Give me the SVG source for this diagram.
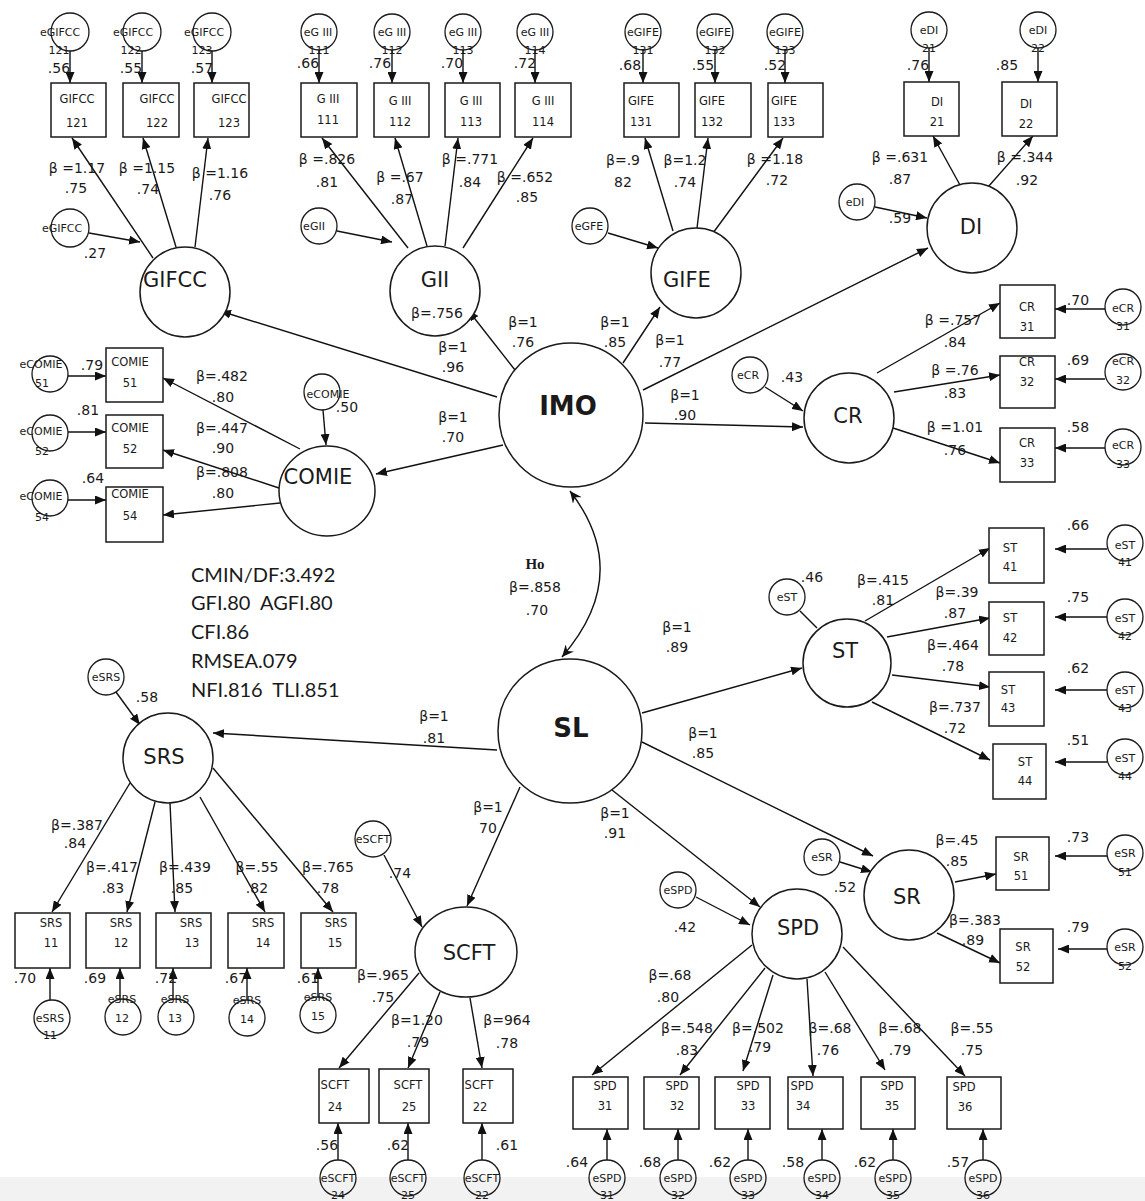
<svg xmlns="http://www.w3.org/2000/svg" width="1145" height="1201" viewBox="0 0 1145 1201">
<style>
.bg{fill:#ffffff}
.band{fill:#f2f2f2}
.lat{fill:#fff;stroke:#1a1a1a;stroke-width:1.5}
.ob{fill:#fff;stroke:#1a1a1a;stroke-width:1.5}
.er{fill:#fff;stroke:#1a1a1a;stroke-width:1.3}
.ern{fill:none;stroke:#1a1a1a;stroke-width:1.3}
.c line,.c path{stroke:#111;stroke-width:1.4;fill:none}
.a{marker-end:url(#ah)}
.ho{stroke:#111;stroke-width:2.6;fill:none;marker-start:url(#ah2);marker-end:url(#ah2)}
text{font-family:"DejaVu Sans","Liberation Sans",sans-serif;fill:#1a1a1a;text-anchor:middle}
.lt{font-size:21px}
.bt{font-size:26px;font-weight:bold}
.l{font-size:14px}
.bx{font-size:11.5px}
.ex{font-size:11px}
.fit{font-family:Lato,"Open Sans",sans-serif;font-size:20px;text-anchor:start;white-space:pre}
.hot{font-family:"Liberation Serif",serif;font-weight:bold;font-size:15px}
</style>
<defs>
<marker id="ah" markerUnits="userSpaceOnUse" markerWidth="11" markerHeight="9" refX="11" refY="4.5" orient="auto"><path d="M0,0 L11,4.5 L0,9 z" fill="#111"/></marker>
<marker id="ah2" markerUnits="userSpaceOnUse" markerWidth="13" markerHeight="11" refX="12" refY="5.5" orient="auto-start-reverse"><path d="M0,0 L12,5.5 L0,11 L4,5.5 z" fill="#111"/></marker>
</defs>
<rect class="bg" x="0" y="0" width="1145" height="1201"/>
<rect class="band" x="0" y="1177" width="1145" height="24"/>

<g id="connectors" class="c">
<line class="a" x1="70" y1="51" x2="70" y2="83"/>
<line class="a" x1="142" y1="51" x2="142" y2="83"/>
<line class="a" x1="212" y1="51" x2="212" y2="83"/>
<line class="a" x1="319" y1="50" x2="319" y2="83"/>
<line class="a" x1="392" y1="50" x2="392" y2="83"/>
<line class="a" x1="463" y1="50" x2="463" y2="83"/>
<line class="a" x1="535" y1="50" x2="535" y2="83"/>
<line class="a" x1="643" y1="50" x2="643" y2="83"/>
<line class="a" x1="715" y1="50" x2="715" y2="83"/>
<line class="a" x1="785" y1="50" x2="785" y2="83"/>
<line class="a" x1="929" y1="48" x2="929" y2="82"/>
<line class="a" x1="1038" y1="48" x2="1038" y2="82"/>
<line class="a" x1="153" y1="258" x2="72" y2="138"/>
<line class="a" x1="176" y1="247" x2="143" y2="138"/>
<line class="a" x1="195" y1="247" x2="208" y2="138"/>
<line class="a" x1="408" y1="248" x2="322" y2="138"/>
<line class="a" x1="427" y1="246" x2="395" y2="138"/>
<line class="a" x1="445" y1="246" x2="458" y2="138"/>
<line class="a" x1="463" y1="248" x2="533" y2="138"/>
<line class="a" x1="673" y1="231" x2="645" y2="138"/>
<line class="a" x1="697" y1="228" x2="708" y2="138"/>
<line class="a" x1="713" y1="233" x2="783" y2="138"/>
<line class="a" x1="960" y1="185" x2="933" y2="136"/>
<line class="a" x1="988" y1="187" x2="1033" y2="136"/>
<line class="a" x1="89" y1="233" x2="140" y2="242"/>
<line class="a" x1="337" y1="231" x2="392" y2="242"/>
<line class="a" x1="608" y1="233" x2="658" y2="248"/>
<line class="a" x1="875" y1="207" x2="927" y2="218"/>
<line class="a" x1="497" y1="397" x2="220" y2="311"/>
<line class="a" x1="515" y1="370" x2="468" y2="310"/>
<line class="a" x1="623" y1="363" x2="660" y2="307"/>
<line class="a" x1="643" y1="390" x2="928" y2="248"/>
<line class="a" x1="645" y1="423" x2="803" y2="427"/>
<line class="a" x1="503" y1="445" x2="376" y2="474"/>
<path class="ho" d="M570,491 Q634,574 562,657"/>
<line class="a" x1="68" y1="376" x2="106" y2="376"/>
<line class="a" x1="68" y1="432" x2="106" y2="432"/>
<line class="a" x1="68" y1="500" x2="106" y2="500"/>
<line class="a" x1="300" y1="449" x2="163" y2="378"/>
<line class="a" x1="279" y1="488" x2="163" y2="450"/>
<line class="a" x1="280" y1="503" x2="163" y2="515"/>
<line class="a" x1="323" y1="410" x2="326" y2="445"/>
<line class="a" x1="1105" y1="309" x2="1055" y2="309"/>
<line class="a" x1="1105" y1="379" x2="1055" y2="379"/>
<line class="a" x1="1105" y1="448" x2="1055" y2="448"/>
<line class="a" x1="765" y1="387" x2="803" y2="411"/>
<line class="a" x1="877" y1="373" x2="1000" y2="303"/>
<line class="a" x1="894" y1="392" x2="1000" y2="375"/>
<line class="a" x1="893" y1="428" x2="1000" y2="463"/>
<line class="a" x1="642" y1="713" x2="802" y2="668"/>
<line class="a" x1="642" y1="742" x2="873" y2="856"/>
<line class="a" x1="497" y1="750" x2="213" y2="733"/>
<line class="a" x1="520" y1="787" x2="467" y2="906"/>
<line class="a" x1="612" y1="790" x2="760" y2="907"/>
<line class="a" x1="1107" y1="549" x2="1055" y2="549"/>
<line class="a" x1="1107" y1="617" x2="1055" y2="617"/>
<line class="a" x1="1107" y1="690" x2="1055" y2="690"/>
<line class="a" x1="1107" y1="762" x2="1055" y2="762"/>
<line x1="800" y1="611" x2="817" y2="628"/>
<line class="a" x1="865" y1="621" x2="990" y2="548"/>
<line class="a" x1="887" y1="637" x2="990" y2="618"/>
<line class="a" x1="892" y1="675" x2="990" y2="687"/>
<line class="a" x1="872" y1="702" x2="990" y2="760"/>
<line class="a" x1="1107" y1="856" x2="1055" y2="856"/>
<line class="a" x1="1107" y1="949" x2="1058" y2="949"/>
<line class="a" x1="840" y1="862" x2="872" y2="872"/>
<line class="a" x1="955" y1="882" x2="996" y2="874"/>
<line class="a" x1="937" y1="933" x2="1000" y2="963"/>
<line class="a" x1="696" y1="897" x2="750" y2="925"/>
<line class="a" x1="752" y1="945" x2="592" y2="1075"/>
<line class="a" x1="765" y1="968" x2="680" y2="1075"/>
<line class="a" x1="773" y1="975" x2="743" y2="1071"/>
<line class="a" x1="807" y1="979" x2="813" y2="1076"/>
<line class="a" x1="825" y1="972" x2="885" y2="1070"/>
<line class="a" x1="843" y1="947" x2="965" y2="1076"/>
<line class="a" x1="607" y1="1160" x2="607" y2="1129"/>
<line class="a" x1="678" y1="1160" x2="678" y2="1129"/>
<line class="a" x1="748" y1="1160" x2="748" y2="1129"/>
<line class="a" x1="822" y1="1160" x2="822" y2="1129"/>
<line class="a" x1="893" y1="1160" x2="893" y2="1129"/>
<line class="a" x1="983" y1="1160" x2="983" y2="1129"/>
<line class="a" x1="384" y1="855" x2="422" y2="927"/>
<line class="a" x1="419" y1="973" x2="339" y2="1068"/>
<line class="a" x1="440" y1="992" x2="408" y2="1068"/>
<line class="a" x1="470" y1="998" x2="482" y2="1068"/>
<line class="a" x1="338" y1="1160" x2="338" y2="1123"/>
<line class="a" x1="408" y1="1160" x2="408" y2="1123"/>
<line class="a" x1="482" y1="1160" x2="482" y2="1123"/>
<line class="a" x1="116" y1="692" x2="140" y2="725"/>
<line class="a" x1="130" y1="783" x2="52" y2="912"/>
<line class="a" x1="155" y1="802" x2="127" y2="912"/>
<line class="a" x1="170" y1="803" x2="175" y2="912"/>
<line class="a" x1="200" y1="797" x2="265" y2="912"/>
<line class="a" x1="213" y1="768" x2="333" y2="912"/>
<line class="a" x1="50" y1="1000" x2="50" y2="968"/>
<line class="a" x1="120" y1="999" x2="120" y2="968"/>
<line class="a" x1="173" y1="999" x2="173" y2="968"/>
<line class="a" x1="247" y1="1000" x2="247" y2="968"/>
<line class="a" x1="318" y1="997" x2="318" y2="968"/>
</g>

<g id="GIFCC">
<circle class="lat" cx="185" cy="292" r="45"/>
<text class="lt" x="175" y="287">GIFCC</text>
<text class="l" x="77" y="173">β =1.17</text><text class="l" x="76" y="193">.75</text>
<text class="l" x="147" y="173">β =1.15</text><text class="l" x="148" y="194">.74</text>
<text class="l" x="220" y="178">β =1.16</text><text class="l" x="220" y="200">.76</text>
</g>
<g id="eGIFCC"><circle class="er" cx="70" cy="228" r="19"/><text class="ex" x="62" y="232">eGIFCC</text><text class="l" x="95" y="258">.27</text></g>
<g id="GIFCC121"><rect class="ob" x="51" y="83" width="55" height="54"/><text class="bx" x="77" y="103">GIFCC</text><text class="bx" x="77" y="127">121</text>
<circle class="er" cx="70" cy="32" r="19"/><text class="ex" x="60" y="36">eGIFCC</text><text class="ex" x="59" y="54">121</text><text class="l" x="59" y="73">.56</text></g>
<g id="GIFCC122"><rect class="ob" x="123" y="83" width="56" height="54"/><text class="bx" x="157" y="103">GIFCC</text><text class="bx" x="157" y="127">122</text>
<circle class="er" cx="142" cy="32" r="19"/><text class="ex" x="133" y="36">eGIFCC</text><text class="ex" x="131" y="54">122</text><text class="l" x="131" y="73">.55</text></g>
<g id="GIFCC123"><rect class="ob" x="194" y="83" width="55" height="54"/><text class="bx" x="229" y="103">GIFCC</text><text class="bx" x="229" y="127">123</text>
<circle class="er" cx="212" cy="32" r="19"/><text class="ex" x="204" y="36">eGIFCC</text><text class="ex" x="202" y="54">123</text><text class="l" x="202" y="73">.57</text></g>

<g id="GII">
<circle class="lat" cx="435" cy="291" r="45"/>
<text class="lt" x="435" y="287">GII</text>
<text class="l" x="437" y="318">β=.756</text>
<text class="l" x="327" y="164">β =.826</text><text class="l" x="327" y="187">.81</text>
<text class="l" x="400" y="182">β =.67</text><text class="l" x="402" y="204">.87</text>
<text class="l" x="470" y="164">β =.771</text><text class="l" x="470" y="187">.84</text>
<text class="l" x="525" y="182">β =.652</text><text class="l" x="527" y="202">.85</text>
</g>
<g id="eGII"><circle class="er" cx="319" cy="226" r="18"/><text class="ex" x="314" y="230">eGII</text></g>
<g id="GIII111"><rect class="ob" x="301" y="83" width="56" height="54"/><text class="bx" x="328" y="103">G III</text><text class="bx" x="328" y="124">111</text>
<circle class="er" cx="319" cy="32" r="18"/><text class="ex" x="318" y="36">eG III</text><text class="ex" x="319" y="54">111</text><text class="l" x="308" y="68">.66</text></g>
<g id="GIII112"><rect class="ob" x="374" y="83" width="55" height="54"/><text class="bx" x="400" y="105">G III</text><text class="bx" x="400" y="126">112</text>
<circle class="er" cx="392" cy="32" r="18"/><text class="ex" x="392" y="36">eG III</text><text class="ex" x="392" y="54">112</text><text class="l" x="380" y="68">.76</text></g>
<g id="GIII113"><rect class="ob" x="445" y="83" width="55" height="54"/><text class="bx" x="471" y="105">G III</text><text class="bx" x="471" y="126">113</text>
<circle class="er" cx="463" cy="32" r="18"/><text class="ex" x="463" y="36">eG III</text><text class="ex" x="463" y="54">113</text><text class="l" x="452" y="68">.70</text></g>
<g id="GIII114"><rect class="ob" x="515" y="83" width="56" height="54"/><text class="bx" x="543" y="105">G III</text><text class="bx" x="543" y="126">114</text>
<circle class="er" cx="535" cy="32" r="18"/><text class="ex" x="535" y="36">eG III</text><text class="ex" x="535" y="54">114</text><text class="l" x="525" y="68">.72</text></g>

<g id="GIFE">
<circle class="lat" cx="696" cy="273" r="45"/>
<text class="lt" x="687" y="287">GIFE</text>
<text class="l" x="623" y="165">β=.9</text><text class="l" x="623" y="187">82</text>
<text class="l" x="685" y="165">β=1.2</text><text class="l" x="685" y="187">.74</text>
<text class="l" x="775" y="164">β =1.18</text><text class="l" x="777" y="185">.72</text>
</g>
<g id="eGFE"><circle class="er" cx="590" cy="226" r="18"/><text class="ex" x="589" y="230">eGFE</text></g>
<g id="GIFE131"><rect class="ob" x="624" y="83" width="55" height="54"/><text class="bx" x="641" y="105">GIFE</text><text class="bx" x="641" y="126">131</text>
<circle class="er" cx="643" cy="32" r="18"/><text class="ex" x="643" y="36">eGIFE</text><text class="ex" x="643" y="54">131</text><text class="l" x="630" y="70">.68</text></g>
<g id="GIFE132"><rect class="ob" x="695" y="83" width="56" height="54"/><text class="bx" x="712" y="105">GIFE</text><text class="bx" x="712" y="126">132</text>
<circle class="er" cx="715" cy="32" r="18"/><text class="ex" x="715" y="36">eGIFE</text><text class="ex" x="715" y="54">132</text><text class="l" x="703" y="70">.55</text></g>
<g id="GIFE133"><rect class="ob" x="768" y="83" width="55" height="54"/><text class="bx" x="784" y="105">GIFE</text><text class="bx" x="784" y="126">133</text>
<circle class="er" cx="785" cy="32" r="18"/><text class="ex" x="785" y="36">eGIFE</text><text class="ex" x="785" y="54">133</text><text class="l" x="775" y="70">.52</text></g>

<g id="DI">
<circle class="lat" cx="972" cy="228" r="45"/>
<text class="lt" x="971" y="234">DI</text>
<text class="l" x="900" y="162">β =.631</text><text class="l" x="900" y="184">.87</text>
<text class="l" x="1025" y="162">β =.344</text><text class="l" x="1027" y="185">.92</text>
</g>
<g id="eDIdist"><circle class="er" cx="857" cy="202" r="18"/><text class="ex" x="855" y="206">eDI</text><text class="l" x="900" y="223">.59</text></g>
<g id="DI21"><rect class="ob" x="904" y="82" width="55" height="54"/><text class="bx" x="937" y="106">DI</text><text class="bx" x="937" y="126">21</text>
<circle class="er" cx="929" cy="30" r="18"/><text class="ex" x="929" y="34">eDI</text><text class="ex" x="929" y="52">21</text><text class="l" x="918" y="70">.76</text></g>
<g id="DI22"><rect class="ob" x="1002" y="82" width="55" height="54"/><text class="bx" x="1026" y="108">DI</text><text class="bx" x="1026" y="128">22</text>
<circle class="er" cx="1038" cy="30" r="18"/><text class="ex" x="1038" y="34">eDI</text><text class="ex" x="1038" y="52">22</text><text class="l" x="1007" y="70">.85</text></g>

<g id="IMO">
<circle class="lat" cx="571" cy="415" r="72"/>
<text class="bt" x="568" y="415">IMO</text>
<text class="l" x="453" y="352">β=1</text><text class="l" x="453" y="372">.96</text>
<text class="l" x="523" y="327">β=1</text><text class="l" x="523" y="347">.76</text>
<text class="l" x="615" y="327">β=1</text><text class="l" x="615" y="347">.85</text>
<text class="l" x="670" y="345">β=1</text><text class="l" x="670" y="367">.77</text>
<text class="l" x="685" y="400">β=1</text><text class="l" x="685" y="420">.90</text>
<text class="l" x="453" y="422">β=1</text><text class="l" x="453" y="442">.70</text>
</g>

<g id="Ho">
<text class="hot" x="535" y="569">Ho</text>
<text class="l" x="535" y="592">β=.858</text>
<text class="l" x="537" y="615">.70</text>
</g>

<g id="COMIE">
<ellipse class="lat" cx="327" cy="491" rx="48" ry="45"/>
<text class="lt" x="318" y="484">COMIE</text>
<text class="l" x="222" y="381">β=.482</text><text class="l" x="223" y="402">.80</text>
<text class="l" x="222" y="433">β=.447</text><text class="l" x="223" y="453">.90</text>
<text class="l" x="222" y="477">β=.808</text><text class="l" x="223" y="498">.80</text>
</g>
<g id="eCOMIEdist"><circle class="er" cx="322" cy="392" r="18"/><text class="ex" x="328" y="398">eCOMIE</text><text class="l" x="347" y="412">.50</text></g>
<g id="COMIE51"><rect class="ob" x="106" y="348" width="57" height="54"/><text class="bx" x="130" y="366">COMIE</text><text class="bx" x="130" y="387">51</text>
<circle class="er" cx="50" cy="374" r="18"/><text class="ex" x="41" y="368">eCOMIE</text><text class="ex" x="42" y="387">51</text><text class="l" x="92" y="370">.79</text></g>
<g id="COMIE52"><rect class="ob" x="106" y="415" width="57" height="53"/><text class="bx" x="130" y="432">COMIE</text><text class="bx" x="130" y="453">52</text>
<circle class="er" cx="50" cy="433" r="18"/><text class="ex" x="41" y="435">eCOMIE</text><text class="ex" x="42" y="455">52</text><text class="l" x="88" y="415">.81</text></g>
<g id="COMIE54"><rect class="ob" x="106" y="487" width="57" height="55"/><text class="bx" x="130" y="498">COMIE</text><text class="bx" x="130" y="520">54</text>
<circle class="er" cx="50" cy="498" r="18"/><text class="ex" x="41" y="500">eCOMIE</text><text class="ex" x="42" y="521">54</text><text class="l" x="93" y="483">.64</text></g>

<g id="CR">
<circle class="lat" cx="849" cy="418" r="45"/>
<text class="lt" x="848" y="423">CR</text>
<text class="l" x="953" y="325">β =.757</text><text class="l" x="955" y="347">.84</text>
<text class="l" x="955" y="375">β =.76</text><text class="l" x="955" y="398">.83</text>
<text class="l" x="955" y="432">β =1.01</text><text class="l" x="955" y="455">.76</text>
</g>
<g id="eCRdist"><circle class="er" cx="750" cy="375" r="18"/><text class="ex" x="748" y="379">eCR</text><text class="l" x="792" y="382">.43</text></g>
<g id="CR31"><rect class="ob" x="1000" y="285" width="55" height="53"/><text class="bx" x="1027" y="311">CR</text><text class="bx" x="1027" y="331">31</text>
<circle class="er" cx="1123" cy="307" r="18"/><text class="ex" x="1123" y="312">eCR</text><text class="ex" x="1123" y="330">31</text><text class="l" x="1078" y="305">.70</text></g>
<g id="CR32"><rect class="ob" x="1000" y="356" width="55" height="52"/><text class="bx" x="1027" y="366">CR</text><text class="bx" x="1027" y="386">32</text>
<circle class="er" cx="1123" cy="372" r="18"/><text class="ex" x="1123" y="365">eCR</text><text class="ex" x="1123" y="384">32</text><text class="l" x="1078" y="365">.69</text></g>
<g id="CR33"><rect class="ob" x="1000" y="428" width="55" height="54"/><text class="bx" x="1027" y="447">CR</text><text class="bx" x="1027" y="467">33</text>
<circle class="er" cx="1123" cy="447" r="18"/><text class="ex" x="1123" y="449">eCR</text><text class="ex" x="1123" y="468">33</text><text class="l" x="1078" y="432">.58</text></g>

<g id="SL">
<circle class="lat" cx="570" cy="731" r="72"/>
<text class="bt" x="571" y="737">SL</text>
<text class="l" x="677" y="632">β=1</text><text class="l" x="677" y="652">.89</text>
<text class="l" x="703" y="738">β=1</text><text class="l" x="703" y="758">.85</text>
<text class="l" x="434" y="721">β=1</text><text class="l" x="434" y="743">.81</text>
<text class="l" x="488" y="812">β=1</text><text class="l" x="488" y="833">70</text>
<text class="l" x="615" y="818">β=1</text><text class="l" x="615" y="838">.91</text>
</g>

<g id="fit">
<text class="fit" x="191" y="582">CMIN/DF:3.492</text>
<text class="fit" x="191" y="610" xml:space="preserve">GFI.80  AGFI.80</text>
<text class="fit" x="191" y="639">CFI.86</text>
<text class="fit" x="191" y="668">RMSEA.079</text>
<text class="fit" x="191" y="697" xml:space="preserve">NFI.816  TLI.851</text>
</g>

<g id="ST">
<circle class="lat" cx="847" cy="663" r="44"/>
<text class="lt" x="845" y="658">ST</text>
<text class="l" x="883" y="585">β=.415</text><text class="l" x="883" y="605">.81</text>
<text class="l" x="957" y="597">β=.39</text><text class="l" x="955" y="618">.87</text>
<text class="l" x="953" y="650">β=.464</text><text class="l" x="953" y="671">.78</text>
<text class="l" x="955" y="712">β=.737</text><text class="l" x="955" y="733">.72</text>
</g>
<g id="eSTdist"><circle class="er" cx="787" cy="597" r="18"/><text class="ex" x="787" y="601">eST</text><text class="l" x="812" y="582">.46</text></g>
<g id="ST41"><rect class="ob" x="989" y="528" width="55" height="55"/><text class="bx" x="1010" y="552">ST</text><text class="bx" x="1010" y="571">41</text>
<circle class="er" cx="1125" cy="543" r="18"/><text class="ex" x="1125" y="549">eST</text><text class="ex" x="1125" y="566">41</text><text class="l" x="1078" y="530">.66</text></g>
<g id="ST42"><rect class="ob" x="989" y="602" width="55" height="53"/><text class="bx" x="1010" y="622">ST</text><text class="bx" x="1010" y="642">42</text>
<circle class="er" cx="1125" cy="617" r="18"/><text class="ex" x="1125" y="622">eST</text><text class="ex" x="1125" y="640">42</text><text class="l" x="1078" y="602">.75</text></g>
<g id="ST43"><rect class="ob" x="989" y="672" width="55" height="54"/><text class="bx" x="1008" y="694">ST</text><text class="bx" x="1008" y="712">43</text>
<circle class="er" cx="1125" cy="690" r="18"/><text class="ex" x="1125" y="694">eST</text><text class="ex" x="1125" y="712">43</text><text class="l" x="1078" y="673">.62</text></g>
<g id="ST44"><rect class="ob" x="993" y="744" width="53" height="55"/><text class="bx" x="1025" y="766">ST</text><text class="bx" x="1025" y="785">44</text>
<circle class="er" cx="1125" cy="757" r="18"/><text class="ex" x="1125" y="762">eST</text><text class="ex" x="1125" y="780">44</text><text class="l" x="1078" y="745">.51</text></g>

<g id="SR">
<circle class="lat" cx="909" cy="895" r="45"/>
<text class="lt" x="907" y="904">SR</text>
<text class="l" x="957" y="845">β=.45</text><text class="l" x="957" y="866">.85</text>
<text class="l" x="975" y="925">β=.383</text><text class="l" x="973" y="945">.89</text>
</g>
<g id="eSRdist"><circle class="er" cx="822" cy="857" r="18"/><text class="ex" x="822" y="861">eSR</text><text class="l" x="845" y="892">.52</text></g>
<g id="SR51"><rect class="ob" x="996" y="837" width="53" height="53"/><text class="bx" x="1021" y="861">SR</text><text class="bx" x="1021" y="880">51</text>
<circle class="er" cx="1125" cy="853" r="18"/><text class="ex" x="1125" y="857">eSR</text><text class="ex" x="1125" y="876">51</text><text class="l" x="1078" y="842">.73</text></g>
<g id="SR52"><rect class="ob" x="1000" y="929" width="53" height="54"/><text class="bx" x="1023" y="951">SR</text><text class="bx" x="1023" y="971">52</text>
<circle class="er" cx="1125" cy="947" r="18"/><text class="ex" x="1125" y="951">eSR</text><text class="ex" x="1125" y="970">52</text><text class="l" x="1078" y="932">.79</text></g>

<g id="SPD">
<circle class="lat" cx="797" cy="934" r="45"/>
<text class="lt" x="798" y="935">SPD</text>
<text class="l" x="670" y="980">β=.68</text><text class="l" x="668" y="1002">.80</text>
<text class="l" x="687" y="1033">β=.548</text><text class="l" x="687" y="1055">.83</text>
<text class="l" x="758" y="1033">β=.502</text><text class="l" x="760" y="1052">.79</text>
<text class="l" x="830" y="1033">β=.68</text><text class="l" x="828" y="1055">.76</text>
<text class="l" x="900" y="1033">β=.68</text><text class="l" x="900" y="1055">.79</text>
<text class="l" x="972" y="1033">β=.55</text><text class="l" x="972" y="1055">.75</text>
</g>
<g id="eSPDdist"><circle class="er" cx="678" cy="890" r="18"/><text class="ex" x="678" y="894">eSPD</text><text class="l" x="685" y="932">.42</text></g>
<g id="SPD31"><rect class="ob" x="573" y="1077" width="55" height="52"/><text class="bx" x="605" y="1090">SPD</text><text class="bx" x="605" y="1110">31</text>
<circle class="ern" cx="607" cy="1178" r="18"/><text class="ex" x="607" y="1182">eSPD</text><text class="ex" x="607" y="1199">31</text><text class="l" x="577" y="1167">.64</text></g>
<g id="SPD32"><rect class="ob" x="644" y="1077" width="55" height="52"/><text class="bx" x="677" y="1090">SPD</text><text class="bx" x="677" y="1110">32</text>
<circle class="ern" cx="678" cy="1178" r="18"/><text class="ex" x="678" y="1182">eSPD</text><text class="ex" x="678" y="1199">32</text><text class="l" x="650" y="1167">.68</text></g>
<g id="SPD33"><rect class="ob" x="715" y="1077" width="55" height="52"/><text class="bx" x="748" y="1090">SPD</text><text class="bx" x="748" y="1110">33</text>
<circle class="ern" cx="748" cy="1178" r="18"/><text class="ex" x="748" y="1182">eSPD</text><text class="ex" x="748" y="1199">33</text><text class="l" x="720" y="1167">.62</text></g>
<g id="SPD34"><rect class="ob" x="788" y="1077" width="55" height="52"/><text class="bx" x="802" y="1090">SPD</text><text class="bx" x="803" y="1110">34</text>
<circle class="ern" cx="822" cy="1178" r="18"/><text class="ex" x="822" y="1182">eSPD</text><text class="ex" x="822" y="1199">34</text><text class="l" x="793" y="1167">.58</text></g>
<g id="SPD35"><rect class="ob" x="861" y="1077" width="54" height="52"/><text class="bx" x="892" y="1090">SPD</text><text class="bx" x="892" y="1110">35</text>
<circle class="ern" cx="893" cy="1178" r="18"/><text class="ex" x="893" y="1182">eSPD</text><text class="ex" x="893" y="1199">35</text><text class="l" x="865" y="1167">.62</text></g>
<g id="SPD36"><rect class="ob" x="947" y="1077" width="54" height="52"/><text class="bx" x="964" y="1091">SPD</text><text class="bx" x="965" y="1111">36</text>
<circle class="ern" cx="983" cy="1178" r="18"/><text class="ex" x="983" y="1182">eSPD</text><text class="ex" x="983" y="1199">36</text><text class="l" x="958" y="1167">.57</text></g>

<g id="SCFT">
<ellipse class="lat" cx="466" cy="952" rx="51" ry="45"/>
<text class="lt" x="469" y="960">SCFT</text>
<text class="l" x="383" y="980">β=.965</text><text class="l" x="383" y="1002">.75</text>
<text class="l" x="417" y="1025">β=1.20</text><text class="l" x="418" y="1047">.79</text>
<text class="l" x="507" y="1025">β=964</text><text class="l" x="507" y="1048">.78</text>
</g>
<g id="eSCFTdist"><circle class="er" cx="373" cy="839" r="18"/><text class="ex" x="373" y="843">eSCFT</text><text class="l" x="400" y="878">.74</text></g>
<g id="SCFT24"><rect class="ob" x="319" y="1069" width="50" height="54"/><text class="bx" x="335" y="1089">SCFT</text><text class="bx" x="335" y="1111">24</text>
<circle class="ern" cx="338" cy="1178" r="18"/><text class="ex" x="338" y="1182">eSCFT</text><text class="ex" x="338" y="1199">24</text><text class="l" x="327" y="1150">.56</text></g>
<g id="SCFT25"><rect class="ob" x="379" y="1069" width="50" height="54"/><text class="bx" x="408" y="1089">SCFT</text><text class="bx" x="409" y="1111">25</text>
<circle class="ern" cx="408" cy="1178" r="18"/><text class="ex" x="408" y="1182">eSCFT</text><text class="ex" x="408" y="1199">25</text><text class="l" x="398" y="1150">.62</text></g>
<g id="SCFT22"><rect class="ob" x="463" y="1069" width="50" height="54"/><text class="bx" x="479" y="1089">SCFT</text><text class="bx" x="480" y="1111">22</text>
<circle class="ern" cx="482" cy="1178" r="18"/><text class="ex" x="482" y="1182">eSCFT</text><text class="ex" x="482" y="1199">22</text><text class="l" x="507" y="1150">.61</text></g>

<g id="SRS">
<circle class="lat" cx="168" cy="758" r="45"/>
<text class="lt" x="164" y="764">SRS</text>
<text class="l" x="77" y="830">β=.387</text><text class="l" x="75" y="848">.84</text>
<text class="l" x="112" y="872">β=.417</text><text class="l" x="113" y="893">.83</text>
<text class="l" x="185" y="872">β=.439</text><text class="l" x="182" y="893">.85</text>
<text class="l" x="257" y="872">β=.55</text><text class="l" x="257" y="893">.82</text>
<text class="l" x="328" y="872">β=.765</text><text class="l" x="328" y="893">.78</text>
</g>
<g id="eSRSdist"><circle class="er" cx="106" cy="677" r="18"/><text class="ex" x="106" y="681">eSRS</text><text class="l" x="147" y="702">.58</text></g>
<g id="SRS11"><rect class="ob" x="15" y="913" width="55" height="55"/><text class="bx" x="51" y="927">SRS</text><text class="bx" x="51" y="947">11</text>
<circle class="er" cx="52" cy="1018" r="18"/><text class="ex" x="50" y="1022">eSRS</text><text class="ex" x="50" y="1039">11</text><text class="l" x="25" y="983">.70</text></g>
<g id="SRS12"><rect class="ob" x="86" y="913" width="54" height="55"/><text class="bx" x="121" y="927">SRS</text><text class="bx" x="121" y="947">12</text>
<circle class="er" cx="123" cy="1017" r="18"/><text class="ex" x="122" y="1003">eSRS</text><text class="ex" x="122" y="1022">12</text><text class="l" x="95" y="983">.69</text></g>
<g id="SRS13"><rect class="ob" x="156" y="913" width="55" height="55"/><text class="bx" x="191" y="927">SRS</text><text class="bx" x="192" y="947">13</text>
<circle class="er" cx="176" cy="1017" r="18"/><text class="ex" x="175" y="1003">eSRS</text><text class="ex" x="175" y="1022">13</text><text class="l" x="166" y="983">.72</text></g>
<g id="SRS14"><rect class="ob" x="228" y="913" width="56" height="55"/><text class="bx" x="263" y="927">SRS</text><text class="bx" x="263" y="947">14</text>
<circle class="er" cx="247" cy="1018" r="18"/><text class="ex" x="247" y="1004">eSRS</text><text class="ex" x="247" y="1023">14</text><text class="l" x="236" y="983">.67</text></g>
<g id="SRS15"><rect class="ob" x="301" y="913" width="55" height="55"/><text class="bx" x="336" y="927">SRS</text><text class="bx" x="335" y="947">15</text>
<circle class="er" cx="318" cy="1015" r="18"/><text class="ex" x="318" y="1001">eSRS</text><text class="ex" x="318" y="1020">15</text><text class="l" x="308" y="983">.61</text></g>
</svg>
